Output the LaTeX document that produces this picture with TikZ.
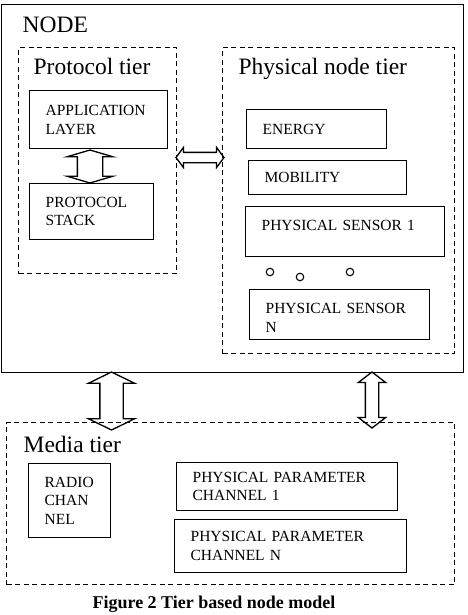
\documentclass[tikz,border=0pt]{standalone}
\usepackage{fontspec}
\setmainfont{Liberation Serif}
\usetikzlibrary{shapes.arrows}
\begin{document}
\begin{tikzpicture}[x=1pt, y=-1pt, line width=1.3pt,
    every node/.style={font=\fontsize{15.5}{18.5}\selectfont},
    tier/.style={draw, dashed, dash pattern=on 5pt off 3.5pt, anchor=north west, inner sep=0pt},
    box/.style={draw, anchor=north west, align=left, inner xsep=16pt, inner ysep=0pt},
    title/.style={anchor=base west, inner sep=0pt, font=\fontsize{23.5}{28}\selectfont},
    dot/.style={draw, circle, inner sep=0pt, minimum size=7.5pt, line width=1.1pt},
    link/.style={draw, double arrow, inner xsep=0pt, minimum width=0pt}]
  \useasboundingbox (0,0) rectangle (467,615);
  % node frame and tiers
  \node[draw, anchor=north west, inner sep=0pt, minimum width=462pt, minimum height=368pt] (nd) at (1,4) {};
  \node[title] (ndt) at (22,33) {NODE};
  \node[tier, minimum width=158pt, minimum height=226pt] (pt) at (18,47) {};
  \node[title] (ptt) at (33,75) {Protocol tier};
  \node[tier, minimum width=232pt, minimum height=306pt] (nt) at (222,47) {};
  \node[title] (ntt) at (238,75) {Physical node tier};
  \node[tier, minimum width=448pt, minimum height=162pt] (mt) at (6,422) {};
  \node[title] (mtt) at (23,452) {Media tier};
  % protocol tier
  \node[box, text width=106pt, minimum height=58pt] (app) at (29,90)  {APPLICATION\\LAYER};
  \node[box, text width=92pt,  minimum height=56pt] (stk) at (29,183) {PROTOCOL\\STACK};
  % physical node tier
  \node[box, text width=108pt, minimum height=39pt] (eng) at (246,109) {ENERGY};
  \node[box, text width=126pt, minimum height=34pt] (mob) at (248,160) {MOBILITY};
  \node[box, text width=167pt, minimum height=50pt, text depth=12pt] (ps1) at (245,206) {PHYSICAL SENSOR 1};
  \node[dot] (d1) at (270,272) {};
  \node[dot] (d2) at (300,277) {};
  \node[dot] (d3) at (350,272) {};
  \node[box, text width=148pt, minimum height=50pt, text height=16.5pt] (psn) at (249,289) {PHYSICAL SENSOR\\N};
  % media tier
  \node[box, text width=50pt,  minimum height=74pt] (rad) at (28,463)  {RADIO\\CHAN\\NEL};
  \node[box, text width=189pt, minimum height=48pt] (pp1) at (176,462) {PHYSICAL PARAMETER\\CHANNEL 1};
  \node[box, text width=200pt, minimum height=53pt] (ppn) at (174,519) {PHYSICAL PARAMETER\\CHANNEL N};
  % double arrows
  \node[link, rotate=90, minimum height=33pt, inner ysep=12pt, double arrow head extend=10pt, double arrow tip angle=147] (a1) at (90,166.5) {};
  \node[link, minimum height=48pt, inner ysep=4.5pt, double arrow head extend=5pt, double arrow tip angle=107] (a2) at (200,157.5) {};
  \node[link, rotate=90, minimum height=58pt, inner ysep=11pt, double arrow head extend=11.5pt, double arrow tip angle=128] (a3) at (111.5,401) {};
  \node[link, rotate=90, minimum height=56pt, inner ysep=6pt, double arrow head extend=7pt, double arrow tip angle=105] (a4) at (372,400) {};
  \node[anchor=base, font=\bfseries\fontsize{18}{22}\selectfont] (cap) at (214,608) {Figure 2 Tier based node model};
\end{tikzpicture}
\end{document}
